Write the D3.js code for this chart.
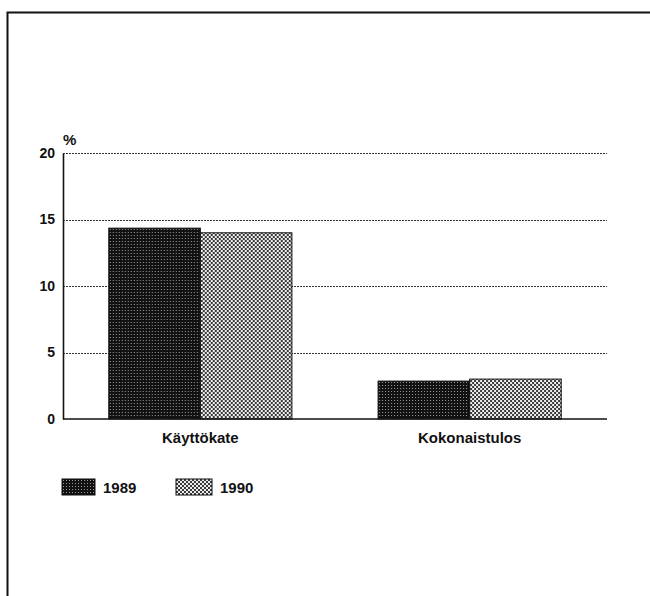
<!DOCTYPE html>
<html>
<head>
<meta charset="utf-8">
<script src="https://cdn.jsdelivr.net/npm/d3@7"></script>
<style>
  body { margin: 0; background: #fff; }
  svg { display: block; font-family: "Liberation Sans", Arial, sans-serif; }
</style>
</head>
<body>
<div id="chart"></div>
<script>
// data
const categories = ["Käyttökate", "Kokonaistulos"];
const years = ["1989", "1990"];
const values1989 = [14.35, 2.85];
const values1990 = [14.0, 3.0];
const yTicks = [0, 5, 10, 15, 20];

const width = 650, height = 596;
const margin = { left: 63, right: 43, top: 153, bottom: 177 };

const svg = d3.select("#chart").append("svg")
    .attr("width", width)
    .attr("height", height);

// patterns for the two series
const defs = svg.append("defs");
const pDark = defs.append("pattern")
    .attr("id", "p1989")
    .attr("width", 3).attr("height", 3)
    .attr("patternUnits", "userSpaceOnUse");
pDark.append("rect").attr("width", 3).attr("height", 3).attr("fill", "#111");
pDark.append("rect").attr("x", 1).attr("y", 1).attr("width", 1).attr("height", 1).attr("fill", "#9a9a9a");

const pLight = defs.append("pattern")
    .attr("id", "p1990")
    .attr("width", 4).attr("height", 4)
    .attr("patternUnits", "userSpaceOnUse");
pLight.append("rect").attr("width", 4).attr("height", 4).attr("fill", "#eee");
pLight.append("rect").attr("x", 0).attr("y", 0).attr("width", 2).attr("height", 2).attr("fill", "#3a3a3a");
pLight.append("rect").attr("x", 2).attr("y", 2).attr("width", 2).attr("height", 2).attr("fill", "#3a3a3a");

const fills = { "1989": "url(#p1989)", "1990": "url(#p1990)" };

// outer frame (cut off on right/bottom)
svg.append("path")
    .attr("d", `M7.5,${height} V12.5 H${width + 2}`)
    .attr("fill", "none")
    .attr("stroke", "#111")
    .attr("stroke-width", 2);

const x = d3.scaleBand()
    .domain(categories)
    .range([margin.left, width - margin.right])
    .paddingInner(0.32)
    .paddingOuter(0.17);

const x1 = d3.scaleBand()
    .domain(years)
    .range([0, x.bandwidth()]);

const y = d3.scaleLinear()
    .domain([0, 20])
    .range([height - margin.bottom, margin.top]);

// dotted gridlines
svg.append("g")
  .selectAll("line")
  .data(yTicks.filter(d => d > 0))
  .join("line")
    .attr("x1", margin.left)
    .attr("x2", width - margin.right)
    .attr("y1", d => Math.round(y(d)) + 0.5)
    .attr("y2", d => Math.round(y(d)) + 0.5)
    .attr("stroke", "#333")
    .attr("stroke-width", 1)
    .attr("stroke-dasharray", "2,1");

// bars
const rows = categories.map((c, i) => ({ cat: c, vals: [values1989[i], values1990[i]] }));
const grp = svg.append("g")
  .selectAll("g")
  .data(rows)
  .join("g")
    .attr("transform", d => `translate(${x(d.cat)},0)`);

grp.selectAll("rect")
  .data(d => d.vals.map((v, j) => ({ year: years[j], v })))
  .join("rect")
    .attr("x", d => x1(d.year))
    .attr("y", d => y(d.v))
    .attr("width", x1.bandwidth())
    .attr("height", d => y(0) - y(d.v))
    .attr("fill", d => fills[d.year])
    .attr("stroke", "#111")
    .attr("stroke-width", 1);

// axes
const yAxis = d3.axisLeft(y).tickValues(yTicks).tickSize(0).tickPadding(8);
const gy = svg.append("g")
    .attr("transform", `translate(${margin.left},0)`)
    .call(yAxis);
gy.select(".domain").attr("stroke", "#111").attr("stroke-width", 1.6);
gy.selectAll("text")
    .attr("font-size", 14)
    .attr("font-weight", "bold")
    .attr("fill", "#111");

// baseline
svg.append("line")
    .attr("x1", margin.left)
    .attr("x2", width - margin.right)
    .attr("y1", y(0))
    .attr("y2", y(0))
    .attr("stroke", "#111")
    .attr("stroke-width", 1.6);

const xAxis = d3.axisBottom(x).tickSize(0).tickPadding(13);
const gx = svg.append("g")
    .attr("transform", `translate(0,${y(0)})`)
    .call(xAxis);
gx.select(".domain").remove();
gx.selectAll("text")
    .attr("font-size", 15)
    .attr("font-weight", "bold")
    .attr("fill", "#111");

// unit label
svg.append("text")
    .attr("x", margin.left)
    .attr("y", 145)
    .attr("font-size", 15)
    .attr("font-weight", "bold")
    .attr("fill", "#111")
    .text("%");

// legend
const legendX = [62, 176];
const legend = svg.append("g")
  .selectAll("g")
  .data(years)
  .join("g")
    .attr("transform", (d, i) => `translate(${legendX[i]},479)`);
legend.append("rect")
    .attr("width", (d, i) => i === 0 ? 33 : 36)
    .attr("height", 16)
    .attr("fill", d => fills[d])
    .attr("stroke", "#111");
legend.append("text")
    .attr("x", (d, i) => i === 0 ? 41 : 44)
    .attr("y", 14)
    .attr("font-size", 15)
    .attr("font-weight", "bold")
    .attr("fill", "#111")
    .text(d => d);
</script>
</body>
</html>
